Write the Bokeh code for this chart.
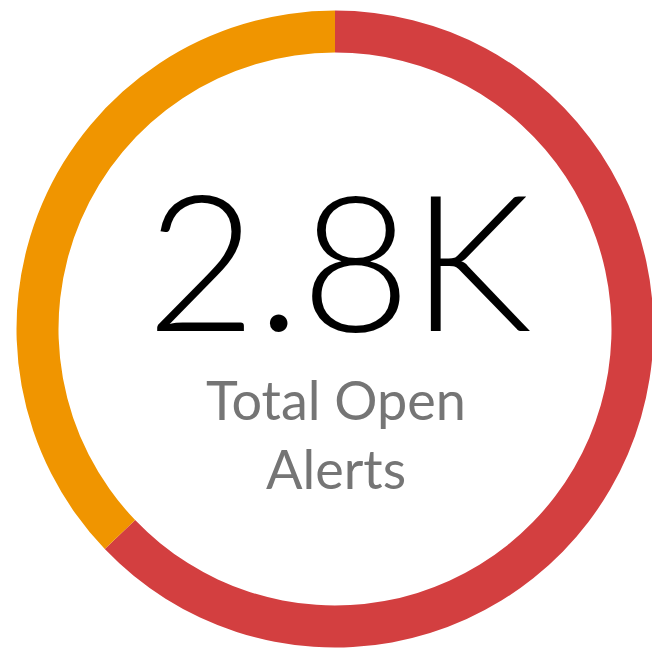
import math
from bokeh.plotting import figure
from bokeh.models import Range1d, ColumnDataSource
from bokeh.core.properties import value
from bokeh.embed import file_html
from bokeh.resources import INLINE

categories = ["Critical", "Warning"]
counts = [1760, 1040]
colors = ["#d33f40", "#f09500"]
total_label = "2.8K"
subtitle_lines = ["Total Open", "Alerts"]

W, H = 652, 651
cx, cy = 334.5, 328.5  # pixel centre of ring

total = sum(counts)
starts, ends = [], []
a = math.pi / 2
for c in counts:
    span = 2 * math.pi * c / total
    starts.append(a)
    ends.append(a - span)
    a -= span

src = ColumnDataSource(dict(cat=categories, count=counts, color=colors,
                            start=starts, end=ends))

p = figure(width=W, height=H, output_backend="svg", toolbar_location=None,
           x_range=Range1d(-cx, W - cx), y_range=Range1d(-(H - cy), cy),
           min_border=0)
p.axis.visible = False
p.grid.visible = False
p.outline_line_color = None
p.background_fill_color = "white"
p.border_fill_color = "white"

p.annular_wedge(x=0, y=0, inner_radius=276.5, outer_radius=318.5,
                start_angle="start", end_angle="end", direction="clock",
                color="color", line_color=None, source=src)

p.text(x=[4], y=[0.5 + 72], text=[total_label], text_font=value("Lato Light"),
       text_font_size="190px", text_color="#000000",
       text_align="center", text_baseline="alphabetic")
p.text(x=[1, 1], y=[328.5 - 422 + 23, 328.5 - 486 + 18], text=subtitle_lines,
       text_font=value("Lato"), text_font_size="54px", text_color="#757575",
       text_align="center", text_baseline="alphabetic")

open("out.html", "w").write(file_html(p, INLINE))
